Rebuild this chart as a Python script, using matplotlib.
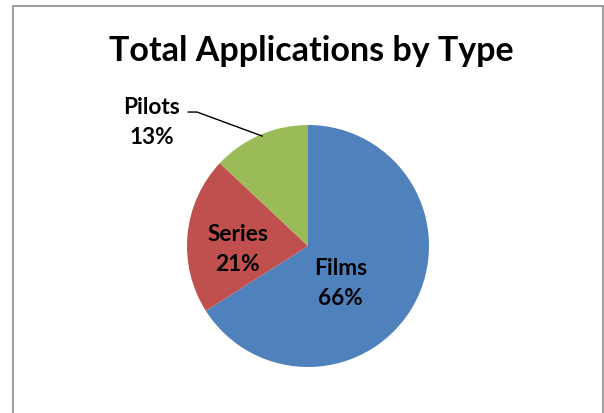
import matplotlib.pyplot as plt
import numpy as np

categories = ['Films', 'Series', 'Pilots']
shares = [66, 21, 13]
colors = ['#4F81BD', '#C0504D', '#9BBB59']

# label positions in pie units (radius = 1), roughly where Excel put them
label_pos = [(0.27, -0.30), (-0.58, -0.02), (-1.29, 1.03)]

plt.rcParams['font.family'] = ['Lato', 'DejaVu Sans']

fig = plt.figure(figsize=(6.04, 4.14), dpi=100)
W, H = 604, 414

# chart border (bottom edge is clipped in the original)
border = plt.Rectangle((12.5 / W, -0.05), (603 - 12.5) / W, (414 - 6.5) / H + 0.05,
                       transform=fig.transFigure, fill=False, edgecolor='#8c8c8c',
                       linewidth=1.2)
fig.patches.append(border)

fig.text(311 / W, 1 - 51 / H, 'Total Applications by Type', ha='center', va='center',
         fontsize=24.5, fontweight='bold')

cx, cy, r = 308, 247, 121
ax = fig.add_axes([(cx - r) / W, (H - cy - r) / H, 2 * r / W, 2 * r / H])
ax.pie(shares, colors=colors, startangle=90, counterclock=False, radius=1,
       wedgeprops=dict(linewidth=0))
ax.set_xlim(-1, 1)
ax.set_ylim(-1, 1)
ax.set_aspect('equal')
ax.axis('off')

for cat, val, (lx, ly) in zip(categories, shares, label_pos):
    ax.text(lx, ly, f'{cat}\n{val}%', ha='center', va='center', fontsize=16.3,
            fontweight='bold', linespacing=1.55, clip_on=False)

# leader line for the Pilots label
ax.plot([-0.99, -0.917, -0.38], [1.107, 1.107, 0.909], color='black', linewidth=1,
        clip_on=False)

fig.savefig('out.png', dpi=100)
